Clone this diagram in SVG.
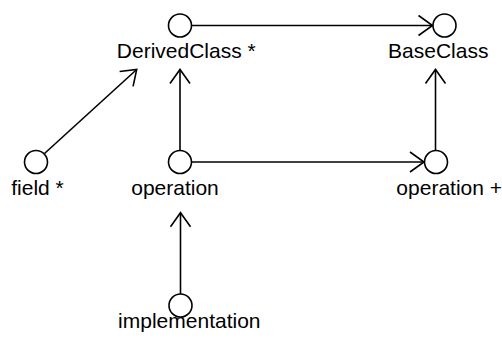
<svg xmlns="http://www.w3.org/2000/svg" width="502" height="341" viewBox="0 0 502 341">
<style>
.n circle{fill:#fff;stroke:#000;stroke-width:1.6}
.n text{font-family:"Liberation Sans",Arial,sans-serif;font-size:21px;fill:#000;text-anchor:middle}
#edges line{stroke:#000;stroke-width:1.6;fill:none;marker-end:url(#arr)}
</style>
<defs>
<marker id="arr" markerUnits="userSpaceOnUse" viewBox="-17 -12 19 24" markerWidth="19" markerHeight="24" refX="0" refY="0" orient="auto">
<path d="M-14,-10 L0,0 L-14,10" fill="none" stroke="#000" stroke-width="1.6"/>
</marker>
</defs>
<rect width="502" height="341" fill="#fff"/>
<g id="edges">
<line x1="191.5" y1="25.5" x2="432.5" y2="25.5"/>
<line x1="44.5" y1="153.5" x2="136.7" y2="69.5"/>
<line x1="180" y1="150.5" x2="180" y2="69.5"/>
<line x1="191.5" y1="162" x2="424" y2="162"/>
<line x1="435.5" y1="150.5" x2="435.5" y2="69.5"/>
<line x1="180.5" y1="294" x2="180.5" y2="212.7"/>
</g>
<g id="DerivedClass" class="n"><circle cx="180" cy="25.5" r="11.5"/><text x="186.3" y="58">DerivedClass *</text></g>
<g id="BaseClass" class="n"><circle cx="444.5" cy="25.5" r="11.5"/><text x="438.3" y="58">BaseClass</text></g>
<g id="field" class="n"><circle cx="36" cy="162" r="11.5"/><text x="37.5" y="195">field *</text></g>
<g id="operation" class="n"><circle cx="180" cy="162" r="11.5"/><text x="175" y="195">operation</text></g>
<g id="operationPlus" class="n"><circle cx="436" cy="162" r="11.5"/><text x="449.2" y="195">operation +</text></g>
<g id="implementation" class="n"><circle cx="180.5" cy="305.5" r="11.5"/><text x="189.3" y="328">implementation</text></g>
</svg>
